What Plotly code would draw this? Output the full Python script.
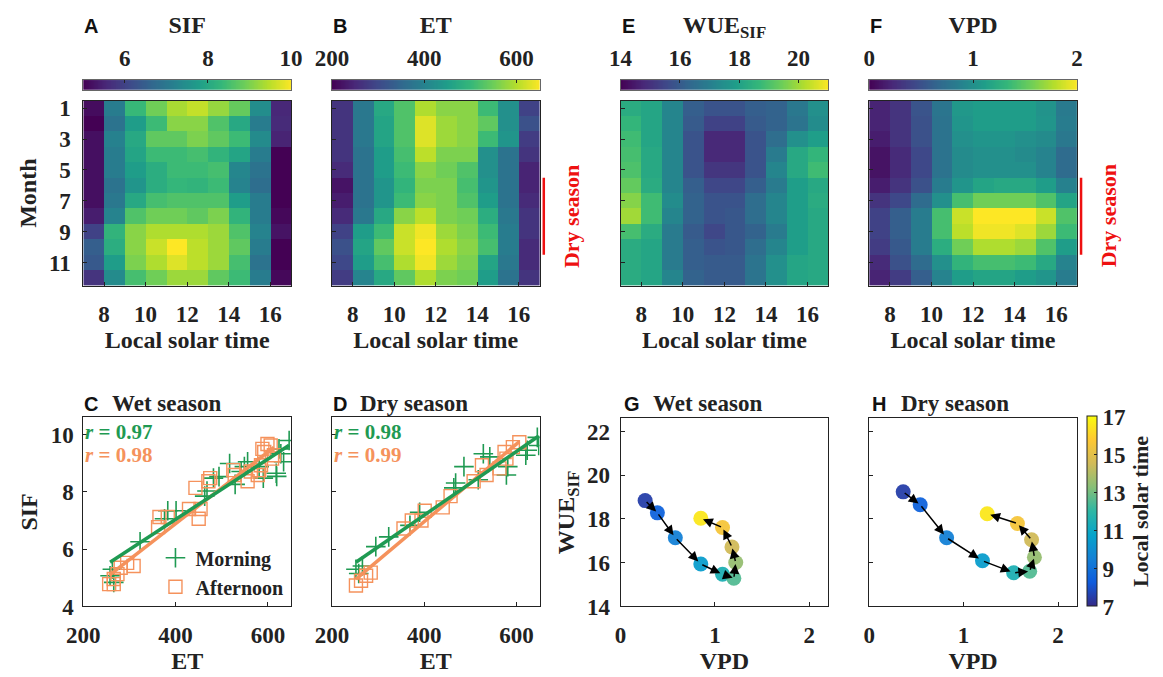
import numpy as np
import plotly.graph_objects as go

# ---------------- data ----------------
hours = [7.5, 8.5, 9.5, 10.5, 11.5, 12.5, 13.5, 14.5, 15.5, 16.5]
months = [1, 2, 3, 4, 5, 6, 7, 8, 9, 10, 11, 12]

sif = [
    [5.15, 7.10, 8.35, 8.90, 9.35, 9.55, 9.20, 8.80, 7.45, 5.55],
    [5.00, 6.90, 7.75, 8.40, 9.10, 9.10, 8.60, 8.00, 7.10, 5.60],
    [5.20, 7.20, 8.00, 8.75, 8.75, 9.00, 8.75, 8.40, 7.40, 5.50],
    [5.20, 7.10, 7.90, 8.40, 8.40, 8.50, 8.25, 7.90, 7.10, 5.00],
    [5.20, 7.10, 7.75, 8.10, 8.40, 8.40, 8.50, 7.30, 6.90, 5.00],
    [5.20, 6.90, 7.60, 8.10, 8.30, 8.25, 8.40, 7.25, 6.80, 5.00],
    [5.20, 7.00, 8.00, 8.50, 8.60, 8.60, 8.60, 7.75, 7.10, 5.00],
    [5.40, 7.25, 8.60, 8.90, 8.90, 8.75, 9.00, 8.25, 7.10, 5.10],
    [6.00, 8.25, 9.10, 9.40, 9.40, 9.40, 9.25, 8.60, 7.25, 5.25],
    [6.50, 8.10, 9.10, 9.60, 10.00, 9.50, 9.25, 8.75, 7.10, 5.00],
    [6.40, 7.75, 9.00, 9.40, 9.75, 9.50, 9.25, 8.50, 6.90, 5.00],
    [5.75, 7.40, 8.50, 8.90, 9.25, 9.25, 8.75, 8.40, 7.10, 5.10],
]

et = [
    [268, 380, 470, 524, 596, 569, 569, 506, 425, 290],
    [268, 380, 461, 524, 628, 583, 569, 538, 425, 313],
    [268, 380, 461, 524, 628, 583, 569, 506, 434, 281],
    [268, 371, 448, 515, 605, 560, 560, 425, 371, 268],
    [254, 371, 448, 506, 569, 551, 524, 425, 371, 245],
    [223, 371, 434, 493, 560, 560, 515, 434, 371, 245],
    [236, 371, 434, 506, 569, 560, 524, 448, 371, 254],
    [254, 380, 470, 569, 605, 560, 551, 479, 380, 268],
    [290, 448, 506, 614, 641, 583, 560, 506, 389, 268],
    [313, 461, 538, 614, 650, 596, 569, 515, 389, 254],
    [299, 448, 515, 596, 641, 583, 560, 461, 380, 254],
    [281, 403, 470, 538, 596, 560, 551, 448, 371, 268],
]

wue = [
    [18.3, 18.1, 17.2, 16.1, 15.8, 15.8, 16.1, 16.2, 16.8, 17.5],
    [18.6, 18.1, 17.2, 16.0, 15.4, 15.4, 16.0, 16.2, 16.7, 17.4],
    [18.8, 18.1, 17.2, 15.8, 14.8, 14.8, 15.8, 16.5, 17.5, 17.9],
    [18.9, 18.2, 17.2, 15.8, 14.8, 14.8, 15.8, 16.9, 18.2, 18.6],
    [19.0, 18.2, 17.2, 15.8, 15.1, 15.1, 15.8, 17.2, 18.2, 18.8],
    [19.3, 18.3, 17.2, 16.1, 15.5, 15.5, 16.1, 16.9, 17.9, 18.2],
    [19.7, 18.8, 17.4, 16.2, 15.8, 15.8, 16.5, 17.2, 17.9, 18.3],
    [20.0, 18.8, 17.2, 16.2, 15.8, 15.9, 16.5, 17.2, 17.9, 18.2],
    [18.9, 18.3, 16.9, 16.0, 15.5, 15.9, 16.2, 16.9, 17.9, 18.2],
    [18.3, 18.1, 16.9, 16.1, 15.8, 15.9, 16.5, 17.2, 17.9, 18.2],
    [18.3, 18.1, 16.9, 16.1, 16.0, 16.0, 16.7, 17.5, 18.1, 18.2],
    [18.3, 18.1, 17.2, 16.2, 16.0, 16.0, 16.7, 17.5, 18.1, 18.2],
]

vpd = [
    [0.20, 0.30, 0.52, 0.78, 1.06, 1.10, 1.10, 1.10, 1.02, 0.82],
    [0.20, 0.30, 0.50, 0.76, 1.04, 1.10, 1.10, 1.10, 1.04, 0.84],
    [0.16, 0.30, 0.50, 0.76, 1.00, 1.04, 1.04, 1.00, 0.96, 0.80],
    [0.10, 0.24, 0.44, 0.76, 0.96, 1.00, 1.00, 0.96, 0.90, 0.70],
    [0.10, 0.24, 0.44, 0.76, 0.96, 1.00, 1.00, 1.00, 0.90, 0.70],
    [0.16, 0.30, 0.50, 0.84, 1.04, 1.16, 1.20, 1.20, 1.10, 0.88],
    [0.30, 0.44, 0.70, 1.00, 1.40, 1.56, 1.56, 1.56, 1.44, 1.16],
    [0.40, 0.60, 0.84, 1.40, 1.84, 2.00, 2.00, 2.00, 1.84, 1.44],
    [0.40, 0.60, 0.84, 1.40, 1.80, 1.96, 1.96, 1.90, 1.70, 1.36],
    [0.36, 0.56, 0.84, 1.24, 1.56, 1.76, 1.76, 1.70, 1.44, 1.10],
    [0.24, 0.50, 0.70, 1.00, 1.30, 1.40, 1.40, 1.36, 1.20, 0.90],
    [0.20, 0.36, 0.60, 0.90, 1.10, 1.16, 1.16, 1.10, 1.04, 0.84],
]

# SIF vs ET, wet season
wet_morning_et = [646, 624, 634, 628, 618, 619, 590, 581, 556, 549, 542, 517, 529,
                  494, 482, 468, 463, 401, 383, 376, 323, 263, 258, 266]
wet_morning_sif = [9.79, 9.50, 9.05, 9.33, 8.65, 8.54, 8.48, 8.88, 9.05, 8.88, 8.71, 8.99, 8.26,
                   8.53, 8.48, 8.03, 7.85, 7.34, 7.34, 7.06, 6.26, 5.30, 5.07, 4.84]
wet_afternoon_et = [599, 606, 588, 592, 613, 609, 585, 581, 578, 563, 556, 525, 528, 475, 471,
                    443, 454, 450, 429, 365, 362, 383, 309, 295, 281, 274, 266, 256, 266]
wet_afternoon_sif = [9.67, 9.62, 9.50, 9.39, 9.28, 9.16, 8.93, 8.76, 8.59, 8.71, 8.37, 8.76, 8.59,
                     8.48, 8.37, 8.14, 7.40, 7.06, 7.40, 7.12, 6.77, 7.12, 5.41, 5.52, 5.35,
                     5.13, 4.96, 4.78, 4.78]

# SIF vs ET, dry season
dry_morning_et = [645, 648, 623, 620, 581, 578, 542, 528, 517, 486, 468, 464, 390, 369,
                  323, 295, 266, 252, 258]
dry_morning_sif = [9.90, 9.62, 9.45, 9.28, 8.88, 8.59, 9.22, 9.33, 8.42, 8.88, 8.31, 8.14, 7.29,
                   6.83, 6.43, 6.09, 5.41, 5.30, 5.15]
dry_afternoon_et = [606, 592, 574, 578, 563, 535, 525, 507, 457, 440, 401, 394, 373, 355,
                    284, 274, 263, 252]
dry_afternoon_sif = [9.73, 9.56, 9.39, 9.16, 8.82, 8.59, 8.93, 8.37, 7.85, 7.46, 7.34, 7.00,
                     7.00, 6.72, 5.18, 5.07, 4.90, 4.73]

# diurnal WUE_SIF vs VPD trajectories
wet_vpd = [0.26, 0.39, 0.58, 0.85, 1.08, 1.20, 1.22, 1.18, 1.08, 0.85]
wet_wue = [18.84, 18.28, 17.14, 15.94, 15.47, 15.29, 16.01, 16.72, 17.61, 18.03]
dry_vpd = [0.36, 0.54, 0.82, 1.20, 1.53, 1.70, 1.75, 1.72, 1.57, 1.25]
dry_wue = [19.24, 18.65, 17.14, 16.09, 15.54, 15.61, 16.25, 17.05, 17.79, 18.24]

r_labels = {"wet": ("0.97", "0.98"), "dry": ("0.98", "0.99")}

# ---------------- styling ----------------
W, H = 1163, 677
INK = "#222222"
SERIF = "Liberation Serif, Times New Roman, serif"
SANS = "Liberation Sans, Arial, sans-serif"
GREEN = "#1f9a52"
ORANGE = "#f5925c"
RED = "#ee1111"
PARULA = [[0.0, "#352a87"], [0.125, "#0f5cdd"], [0.25, "#1481d6"], [0.375, "#06a4ca"],
          [0.5, "#2eb7a4"], [0.625, "#87bf77"], [0.75, "#d1bb59"], [0.875, "#fec832"],
          [1.0, "#f9fb0e"]]

TICK = 23
TITLE = 24


def dom_x(left, right):
    return [left / W, right / W]


def dom_y(top, bottom):
    return [1 - bottom / H, 1 - top / H]


def font(size, family=SERIF, color=INK):
    return dict(family=family, size=size, color=color, weight="bold")


def ax_name(k):
    return ("x", "y") if k == 1 else (f"x{k}", f"y{k}")


def axis_title(text, standoff):
    return dict(text=text, font=font(TITLE), standoff=standoff)


frame = dict(showline=True, mirror=True, linecolor=INK, linewidth=1, ticks="inside",
             ticklen=4, tickcolor=INK, showgrid=False, zeroline=False, tickfont=font(TICK))

fig = go.Figure()
layout = {}
annotations = []
shapes = []

cols = [(68, 281), (323, 536), (619, 832), (874, 1087)]

# ---------------- top row: monthly diurnal heatmaps ----------------
panels = [
    dict(z=sif, lo=5, hi=10, title="SIF", ticks=[6, 8, 10], letter="A"),
    dict(z=et, lo=200, hi=650, title="ET", ticks=[200, 400, 600], letter="B"),
    dict(z=wue, lo=14, hi=21, title="WUE<sub>SIF</sub>", ticks=[14, 16, 18, 20], letter="E"),
    dict(z=vpd, lo=0, hi=2, title="VPD", ticks=[0, 1, 2], letter="F"),
]

for i, p in enumerate(panels):
    k, s = i + 1, i + 9
    xa, ya = ax_name(k)
    xs, ys = ax_name(s)
    left, right = cols[i]

    fig.add_trace(go.Heatmap(x=hours, y=months, z=p["z"], zmin=p["lo"], zmax=p["hi"],
                             colorscale="Viridis", showscale=False, xaxis=xa, yaxis=ya))
    layout["xaxis" if k == 1 else f"xaxis{k}"] = dict(
        frame, domain=dom_x(left, right), anchor=ya, range=[7, 17],
        tickvals=[8, 10, 12, 14, 16], ticklabelstandoff=8,
        title=axis_title("Local solar time", 3))
    yax = dict(frame, domain=dom_y(99, 289), anchor=xa, range=[12.5, 0.5],
               tickvals=[1, 3, 5, 7, 9, 11], showticklabels=(k == 1), ticklabelstandoff=7)
    if k == 1:
        yax["title"] = axis_title("Month", 5)
    layout["yaxis" if k == 1 else f"yaxis{k}"] = yax

    # horizontal colour strip above each map
    grad = np.linspace(p["lo"], p["hi"], 256)
    fig.add_trace(go.Heatmap(x=grad, y=[0], z=[grad], zmin=p["lo"], zmax=p["hi"],
                             colorscale="Viridis", showscale=False, xaxis=xs, yaxis=ys,
                             hoverinfo="skip"))
    layout[f"xaxis{s}"] = dict(
        frame, domain=dom_x(left, right), anchor=ys, side="top", range=[p["lo"], p["hi"]],
        tickvals=p["ticks"], ticklen=3, linecolor="#666666", ticklabelstandoff=4,
        title=dict(text=p["title"], font=font(TITLE), standoff=5))
    layout[f"yaxis{s}"] = dict(
        domain=dom_y(78, 88), anchor=xs, range=[-0.5, 0.5], showticklabels=False,
        ticks="", showgrid=False, zeroline=False, showline=True, mirror=True,
        linecolor="#666666", linewidth=1)

    annotations.append(dict(text=p["letter"], xref="paper", yref="paper", x=(left - 1) / W,
                            y=1 - 23 / H, xanchor="left", yanchor="middle", showarrow=False,
                            font=font(20, SANS, "#111111")))

# dry-season bracket on the ET and VPD maps
for k in (2, 4):
    xa, ya = ax_name(k)
    shapes.append(dict(type="line", xref=f"{xa} domain", yref=ya, x0=1.02, x1=1.02,
                       y0=5.5, y1=10.5, line=dict(color=RED, width=2.5)))
    annotations.append(dict(text="Dry season", xref=f"{xa} domain", yref=ya, x=1.15, y=8,
                            textangle=-90, showarrow=False, xanchor="center", yanchor="middle",
                            font=font(22, SERIF, RED)))

# ---------------- bottom row: SIF vs ET ----------------
scatter_sets = [
    (5, "wet", "C", "Wet season", wet_morning_et, wet_morning_sif, wet_afternoon_et,
     wet_afternoon_sif),
    (6, "dry", "D", "Dry season", dry_morning_et, dry_morning_sif, dry_afternoon_et,
     dry_afternoon_sif),
]
for j, (k, key, letter, label, met, msif, aet, asif) in enumerate(scatter_sets):
    xa, ya = ax_name(k)
    left, right = cols[j]
    show = (k == 5)
    fig.add_trace(go.Scatter(x=met, y=msif, mode="markers", name="Morning", showlegend=show,
                             marker=dict(symbol="cross-thin-open", size=14,
                                         line=dict(color=GREEN, width=1.6), color=GREEN),
                             xaxis=xa, yaxis=ya))
    fig.add_trace(go.Scatter(x=aet, y=asif, mode="markers", name="Afternoon", showlegend=show,
                             marker=dict(symbol="square-open", size=13, color=ORANGE,
                                         line=dict(color=ORANGE, width=1.4)),
                             xaxis=xa, yaxis=ya))
    for xv, yv, c in ((aet, asif, ORANGE), (met, msif, GREEN)):
        slope, icpt = np.polyfit(xv, yv, 1)
        xl = np.array([min(xv), max(xv)])
        fig.add_trace(go.Scatter(x=xl, y=slope * xl + icpt, mode="lines", showlegend=False,
                                 line=dict(color=c, width=3.5), xaxis=xa, yaxis=ya,
                                 hoverinfo="skip"))
    layout[f"xaxis{k}"] = dict(frame, domain=dom_x(left, right), anchor=ya, range=[200, 650],
                               tickvals=[200, 400, 600], ticklabelstandoff=8,
                               title=axis_title("ET", 3))
    yax = dict(frame, domain=dom_y(424, 618), anchor=xa, range=[4, 10.6],
               tickvals=[4, 6, 8, 10], showticklabels=show, ticklabelstandoff=4)
    if show:
        yax["title"] = axis_title("SIF", 6)
    layout[f"yaxis{k}"] = yax
    r_m, r_a = r_labels[key]
    annotations.append(dict(text=f"<i>r</i> = {r_m}", xref=f"{xa} domain", yref=f"{ya} domain",
                            x=0.0, y=0.925, xanchor="left", yanchor="middle",
                            showarrow=False, font=font(21, SERIF, GREEN)))
    annotations.append(dict(text=f"<i>r</i> = {r_a}", xref=f"{xa} domain", yref=f"{ya} domain",
                            x=0.0, y=0.80, xanchor="left", yanchor="middle",
                            showarrow=False, font=font(21, SERIF, ORANGE)))
    annotations.append(dict(text=letter, xref="paper", yref="paper", x=(left - 1) / W,
                            y=1 - 410 / H, xanchor="left", yanchor="middle", showarrow=False,
                            font=font(20, SANS, "#111111")))
    annotations.append(dict(text=label, xref="paper", yref="paper", x=(left + 27) / W,
                            y=1 - 410 / H, xanchor="left", yanchor="middle", showarrow=False,
                            font=font(23)))

# ---------------- bottom row: WUE_SIF vs VPD ----------------
traj_sets = [(7, "G", "Wet season", wet_vpd, wet_wue), (8, "H", "Dry season", dry_vpd, dry_wue)]
for j, (k, letter, label, xv, yv) in enumerate(traj_sets):
    xa, ya = ax_name(k)
    left, right = cols[j + 2]
    last = (k == 8)
    marker = dict(size=15, color=hours, colorscale=PARULA, cmin=7, cmax=17, opacity=0.95,
                  line=dict(width=0))
    if last:
        marker.update(showscale=True, colorbar=dict(
            x=1097 / W, xanchor="left", y=1 - 618 / H, yanchor="bottom", len=190,
            lenmode="pixels", thickness=10, thicknessmode="pixels", xpad=0, ypad=0,
            tickvals=[7, 9, 11, 13, 15, 17], ticks="inside", ticklen=3, tickcolor=INK,
            tickfont=font(TICK), outlinewidth=1, outlinecolor=INK,
            title=dict(text="Local solar time", side="right", font=font(22))))
    fig.add_trace(go.Scatter(x=xv, y=yv, mode="markers", marker=marker, showlegend=False,
                             xaxis=xa, yaxis=ya))
    for n in range(len(xv) - 1):
        hx = xv[n] + 0.9 * (xv[n + 1] - xv[n])
        hy = yv[n] + 0.9 * (yv[n + 1] - yv[n])
        annotations.append(dict(x=hx, y=hy, ax=xv[n], ay=yv[n], xref=xa, yref=ya, axref=xa,
                                ayref=ya, text="", showarrow=True, arrowhead=2, arrowsize=1.3,
                                arrowwidth=1.5, arrowcolor="black", standoff=0, startstandoff=0))
    layout[f"xaxis{k}"] = dict(frame, domain=dom_x(left, right), anchor=ya, range=[0, 2.2],
                               tickvals=[0, 1, 2], ticklabelstandoff=8,
                               title=axis_title("VPD", 3))
    yax = dict(frame, domain=dom_y(425, 618), anchor=xa, range=[14, 22.6],
               tickvals=[14, 16, 18, 20, 22], showticklabels=not last, ticklabelstandoff=5)
    if not last:
        yax["title"] = axis_title("WUE<sub>SIF</sub>", 5)
    layout[f"yaxis{k}"] = yax
    annotations.append(dict(text=letter, xref="paper", yref="paper", x=(left + 1) / W,
                            y=1 - 410 / H, xanchor="left", yanchor="middle", showarrow=False,
                            font=font(20, SANS, "#111111")))
    annotations.append(dict(text=label, xref="paper", yref="paper", x=(left + 31) / W,
                            y=1 - 410 / H, xanchor="left", yanchor="middle", showarrow=False,
                            font=font(23)))

fig.update_layout(
    width=W, height=H, margin=dict(l=0, r=0, t=0, b=0),
    paper_bgcolor="white", plot_bgcolor="white",
    font=dict(family=SERIF, color=INK),
    showlegend=True,
    legend=dict(x=142 / W, y=1 - 548 / H, xanchor="left", yanchor="top",
                bgcolor="rgba(0,0,0,0)", font=font(20), tracegroupgap=0),
    annotations=annotations, shapes=shapes,
    **layout,
)

fig.write_html("out.html")
